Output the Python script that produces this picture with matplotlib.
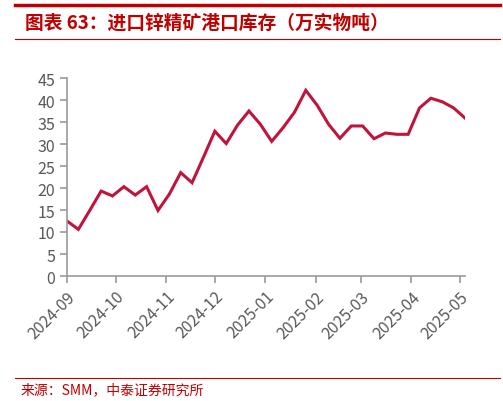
import matplotlib
matplotlib.use("Agg")
import matplotlib.pyplot as plt
import matplotlib.dates as mdates
import pandas as pd
from matplotlib.lines import Line2D

plt.rcParams['font.family'] = ['Noto Sans CJK SC', 'DejaVu Sans']

RED = "#c00000"
LINE = "#c0143c"
GRAY = "#595959"

start_date = "2024-09-01"
values = [12.5, 10.6, 14.9, 19.3, 18.2, 20.3, 18.4, 20.3, 14.9, 18.6,
          23.5, 21.2, 27.0, 32.9, 30.1, 34.3, 37.5, 34.5, 30.6, 33.7,
          37.2, 42.2, 38.8, 34.5, 31.3, 34.1, 34.1, 31.2, 32.5, 32.2,
          32.2, 38.2, 40.4, 39.6, 38.2, 35.9]
dates = pd.date_range(start_date, periods=len(values), freq="7D")
yticks = list(range(0, 50, 5))

fig = plt.figure(figsize=(5.03, 4.02), dpi=100)
ax = fig.add_axes([67 / 503, 1 - 277 / 402, (465 - 67) / 503, (277 - 79) / 402])
ax.plot(dates, values, color=LINE, lw=2.2, solid_joinstyle="miter")

ax.set_ylim(0, 45)
ax.set_yticks(yticks)
ax.set_xlim(dates[0], dates[-1])
ax.xaxis.set_major_locator(mdates.MonthLocator())
ax.xaxis.set_major_formatter(mdates.DateFormatter("%Y-%m"))
for s in ["top", "right"]:
    ax.spines[s].set_visible(False)
for s in ["left", "bottom"]:
    ax.spines[s].set_color("#999999")
    ax.spines[s].set_linewidth(1.2)
ax.tick_params(axis="both", colors="#999999", labelcolor=GRAY, labelsize=11.5, length=5, width=1.2)
plt.setp(ax.get_xticklabels(), rotation=45, ha="right", rotation_mode="anchor")

# header / footer
fig.add_artist(Line2D([0.03, 0.995], [1 - 6 / 402] * 2, color=RED, lw=2.5))
fig.add_artist(Line2D([0.03, 0.995], [1 - 40 / 402] * 2, color=RED, lw=0.8))
fig.text(0.05, 1 - 23 / 402, "图表 63：进口锌精矿港口库存（万实物吨）", color=RED,
         fontsize=13.5, fontweight="bold", style="italic", va="center")
fig.add_artist(Line2D([0.03, 0.995], [1 - 379 / 402] * 2, color=RED, lw=0.8))
fig.text(0.04, 1 - 390 / 402, "来源：SMM，中泰证券研究所", color=RED, fontsize=10, va="center")

fig.savefig("out.png", dpi=100)
